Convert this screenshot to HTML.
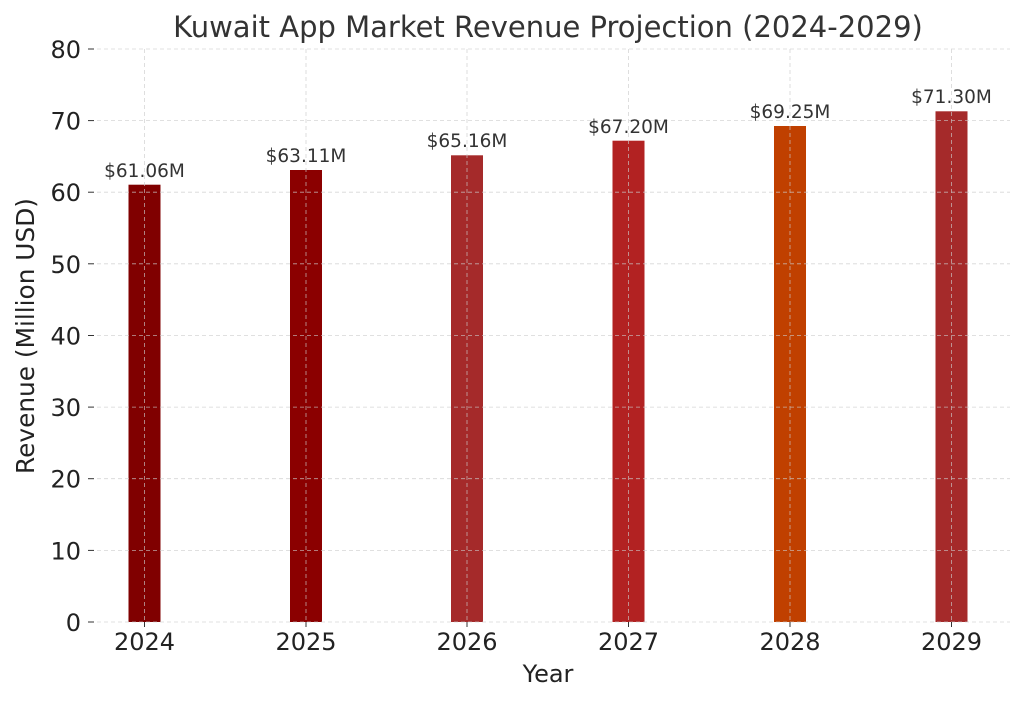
<!DOCTYPE html>
<html><head><meta charset="utf-8"><style>html,body{margin:0;padding:0;background:#fff}</style></head><body>
<svg width="1024" height="702" xmlns="http://www.w3.org/2000/svg" font-family="DejaVu Sans, Liberation Sans, sans-serif">
<rect width="1024" height="702" fill="#fff"/>
<g>
<rect x="128.5" y="184.7" width="32" height="437.3" fill="#800000"/>
<rect x="290" y="170" width="32" height="452" fill="#8b0000"/>
<rect x="451" y="155.3" width="32" height="466.7" fill="#a52a2a"/>
<rect x="612.5" y="140.7" width="32" height="481.3" fill="#b22222"/>
<rect x="774" y="126" width="32" height="496" fill="#c04000"/>
<rect x="935.5" y="111.3" width="32" height="510.7" fill="#a52a2a"/>
</g>
<g stroke="#cccccc" stroke-width="0.8" stroke-dasharray="4,3" opacity="0.8">
<line x1="97" x2="1010" y1="622" y2="622"/>
<line x1="97" x2="1010" y1="550.4" y2="550.4"/>
<line x1="97" x2="1010" y1="478.7" y2="478.7"/>
<line x1="97" x2="1010" y1="407.1" y2="407.1"/>
<line x1="97" x2="1010" y1="335.5" y2="335.5"/>
<line x1="97" x2="1010" y1="263.8" y2="263.8"/>
<line x1="97" x2="1010" y1="192.2" y2="192.2"/>
<line x1="97" x2="1010" y1="120.6" y2="120.6"/>
<line x1="97" x2="1010" y1="49" y2="49"/>
<line x1="144.5" x2="144.5" y1="49" y2="622"/>
<line x1="306" x2="306" y1="49" y2="622"/>
<line x1="467" x2="467" y1="49" y2="622"/>
<line x1="628.5" x2="628.5" y1="49" y2="622"/>
<line x1="790" x2="790" y1="49" y2="622"/>
<line x1="951.5" x2="951.5" y1="49" y2="622"/>
</g>
<g stroke="#333" stroke-width="1">
<line x1="144.5" x2="144.5" y1="622" y2="627"/><line x1="306" x2="306" y1="622" y2="627"/><line x1="467" x2="467" y1="622" y2="627"/><line x1="628.5" x2="628.5" y1="622" y2="627"/><line x1="790" x2="790" y1="622" y2="627"/><line x1="951.5" x2="951.5" y1="622" y2="627"/>
<line x1="88" x2="94" y1="622" y2="622"/><line x1="88" x2="94" y1="550.4" y2="550.4"/><line x1="88" x2="94" y1="478.7" y2="478.7"/><line x1="88" x2="94" y1="407.1" y2="407.1"/><line x1="88" x2="94" y1="335.5" y2="335.5"/><line x1="88" x2="94" y1="263.8" y2="263.8"/><line x1="88" x2="94" y1="192.2" y2="192.2"/><line x1="88" x2="94" y1="120.6" y2="120.6"/><line x1="88" x2="94" y1="49" y2="49"/>
</g>
<g fill="#222" font-size="24" text-anchor="end">
<text x="81" y="631">0</text><text x="81" y="559.4">10</text><text x="81" y="487.7">20</text><text x="81" y="416.1">30</text><text x="81" y="344.5">40</text><text x="81" y="272.8">50</text><text x="81" y="201.2">60</text><text x="81" y="129.6">70</text><text x="81" y="58">80</text>
</g>
<g fill="#222" font-size="24" text-anchor="middle">
<text x="144.5" y="650">2024</text><text x="306" y="650">2025</text><text x="467" y="650">2026</text><text x="628.5" y="650">2027</text><text x="790" y="650">2028</text><text x="951.5" y="650">2029</text>
</g>
<g fill="#333" font-size="18.5" text-anchor="middle">
<text x="144.5" y="177">$61.06M</text><text x="306" y="162">$63.11M</text><text x="467" y="147">$65.16M</text><text x="628.5" y="133">$67.20M</text><text x="790" y="118">$69.25M</text><text x="951.5" y="103">$71.30M</text>
</g>
<text x="548" y="682" font-size="24" fill="#222" text-anchor="middle">Year</text>
<text transform="translate(34,336) rotate(-90)" font-size="24.8" fill="#222" text-anchor="middle">Revenue (Million USD)</text>
<text x="548" y="37" font-size="29" fill="#333" text-anchor="middle">Kuwait App Market Revenue Projection (2024-2029)</text>
</svg>
</body></html>
